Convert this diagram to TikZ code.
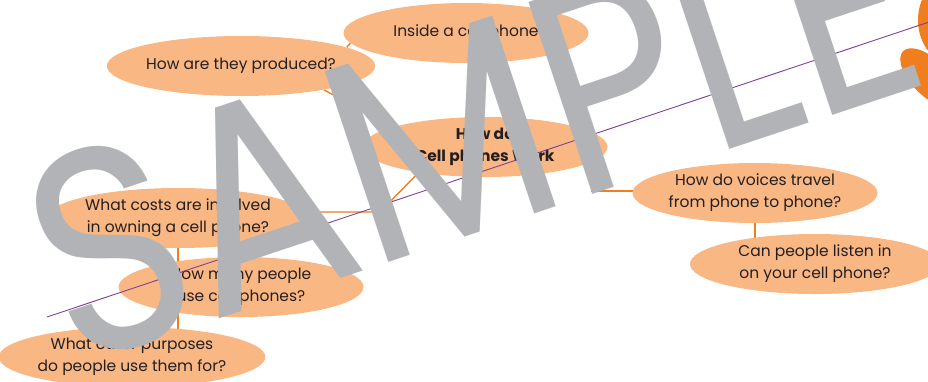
\documentclass[tikz,border=0pt]{standalone}
\usepackage{fontspec}
\usepackage{graphicx}
\setmainfont{Poppins}
\newfontfamily\stampfont{Poppins}
\usetikzlibrary{shapes.geometric,backgrounds}
\definecolor{peach}{HTML}{F9B784}
\definecolor{linkorange}{HTML}{F07D1E}
\definecolor{stampgray}{HTML}{B1B3B6}
\definecolor{guide}{HTML}{7E3F98}
\definecolor{ink}{HTML}{231F20}

\begin{document}
\begin{tikzpicture}
  [x=1pt,y=-1pt,
   bubble/.style={ellipse,fill=peach,inner sep=0pt,minimum width=245pt,minimum height=60pt,
     align=center,text=ink,font=\fontsize{15.5}{22}\selectfont},
   link/.style={linkorange,line width=1.4pt},
   stamp/.style={rotate=18.4,inner sep=0pt,text=stampgray,font=\stampfont\fontsize{262}{262}\selectfont}]
 \clip (0,0) rectangle (928,381);

 \node (inside)[bubble] at (466,33) {Inside a cell phone};
 \node (made)[bubble] at (241,66) {How are they produced?};
 \node (hub)[bubble,font=\fontsize{15.5}{22}\selectfont\bfseries] at (485,147) {How do\\Cell phones Work};
 \node (voices)[bubble] at (755,193) {How do voices travel\\from phone to phone?};
 \node (listen)[bubble,minimum width=250pt] at (815,264) {Can people listen in\\on your cell phone?};
 \node (costs)[bubble] at (178,218) {What costs are involved\\in owning a cell phone?};
 \node (users)[bubble] at (241,287) {How many people\\use cell phones?};
 \node (uses)[bubble] at (132,357) {What other purposes\\do people use them for?};

 \coordinate (cbend) at (380,212);
 \coordinate (vbend) at (592,191);
 \begin{scope}[on background layer]
  \draw[link] (hub.168) -- (made.344);
  \draw[link] (made.10) -- (inside.185);
  \draw[link] (hub.201) -- (cbend) -- (cbend -| costs.center);
  \draw[link] (vbend |- hub.center) -- (vbend) -- (vbend -| voices.center);
  \foreach \from/\to in {costs/uses,voices/listen}
    \draw[link] (\from) -- (\from |- \to);
 \end{scope}

 % blobs at the right edge
 \fill[linkorange] (955,20) ellipse [x radius=37,y radius=45];
 \fill[linkorange,rotate around={-45:(930,78)}] (930,78) ellipse [x radius=38,y radius=18];

 \coordinate (g1) at (47,317);
 \coordinate (g2) at (950,15);
 \draw[guide,line width=0.9pt] (g1) -- (g2);

 \node (sample)[stamp] at (472,128) {\resizebox{910pt}{205pt}{SAMPLE}};
\end{tikzpicture}
\end{document}
